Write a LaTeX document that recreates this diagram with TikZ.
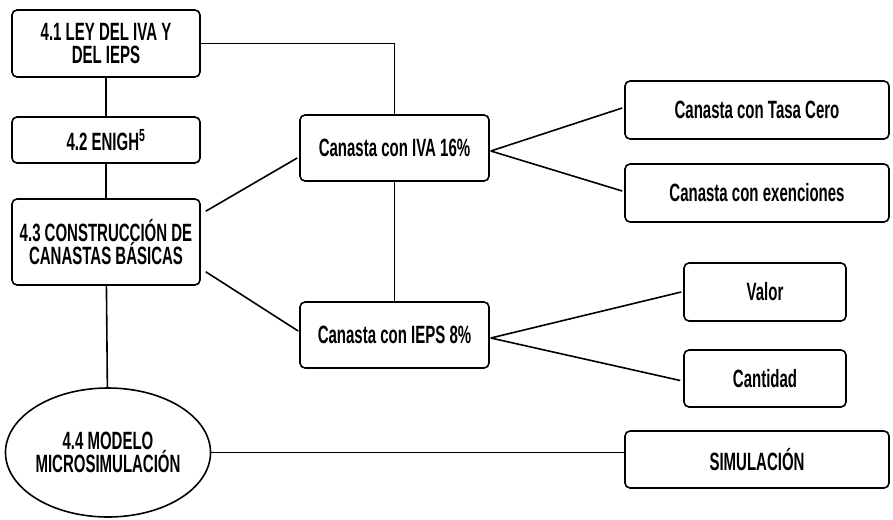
\documentclass[tikz,border=0pt]{standalone}
\usepackage{fontspec}
\setmainfont{Liberation Sans}[FakeStretch=0.6]
\usepackage{tikz}
\usetikzlibrary{calc,shapes.geometric}

\begin{document}
\begin{tikzpicture}[x=1pt, y=-1pt,
      caja/.style={draw, rounded corners=5pt, line width=1.6pt,
                   inner sep=0pt, align=center,
                   font=\fontsize{25}{23}\selectfont\bfseries},
      elip/.style={draw, ellipse, line width=1.6pt, inner sep=0pt,
                   align=center, font=\fontsize{25}{23}\selectfont\bfseries},
      lin/.style={line width=1.6pt}
  ]
    \useasboundingbox (0,0) rectangle (893,519);
    % columna izquierda
    \node[caja, minimum width=188pt, minimum height=67pt] (ley) at (106,43.5) {4.1 LEY DEL IVA Y\\DEL IEPS};
    \node[caja, minimum width=188pt, minimum height=46pt] (enigh) at (106,140) {4.2 ENIGH\textsuperscript{5}};
    \node[caja, minimum width=188pt, minimum height=86pt] (cons) at (106,242) {4.3 CONSTRUCCIÓN DE\\CANASTAS BÁSICAS};
    \node[elip, minimum width=192pt, minimum height=129pt] (modelo) at (108,452.5) {4.4 MODELO\\MICROSIMULACIÓN};
    % canastas
    \node[caja, minimum width=189pt, minimum height=66pt] (iva) at (394.5,148) {Canasta con IVA 16\%};
    \node[caja, minimum width=189pt, minimum height=66pt] (ieps) at (394.5,335) {Canasta con IEPS 8\%};
    % columna derecha
    \node[caja, minimum width=264pt, minimum height=58pt] (tasa) at (757,110) {Canasta con Tasa Cero};
    \node[caja, minimum width=264pt, minimum height=58pt] (exen) at (757,193) {Canasta con exenciones};
    \node[caja, minimum width=162pt, minimum height=58pt] (valor) at (765,292) {Valor};
    \node[caja, minimum width=162pt, minimum height=57pt] (cant) at (765,378.5) {Cantidad};
    \node[caja, minimum width=264pt, minimum height=57pt] (simul) at (757,459.5) {SIMULACIÓN};

    \draw[lin] (ley) -- (enigh);
    \draw[lin] (enigh) -- (cons);
    \draw[lin] (cons) -- (modelo);
    \draw[lin] (ley.east) -| (iva.north);
    \draw[lin] (iva) -- (ieps);
    \draw[lin] ($(cons.north east)+(5,13)$) -- ($(iva.west)+(-2,10)$);
    \draw[lin] ($(cons.south east)+(5,-14)$) -- ($(ieps.west)+(-1,-4)$);
    \draw[lin] ($(iva.east)+(1,3)$) -- ($(tasa.west)+(-2,-2)$);
    \draw[lin] ($(iva.east)+(1,3)$) -- ($(exen.west)+(-2,-2)$);
    \draw[lin] ($(ieps.east)+(1,3)$) -- ($(valor.west)+(-2,0)$);
    \draw[lin] ($(ieps.east)+(1,3)$) -- ($(cant.west)+(-3,2)$);
    \draw[lin] (modelo.east) -- (modelo.east -| simul.west);
  \end{tikzpicture}
\end{document}
